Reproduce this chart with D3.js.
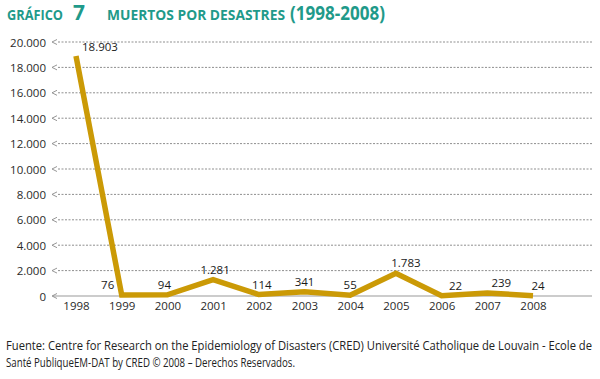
<!DOCTYPE html>
<html><head><meta charset="utf-8">
<script src="https://cdn.jsdelivr.net/npm/d3@7"></script>
<style>body{margin:0;background:#fff}svg{display:block}</style>
</head><body>
<svg id="c" width="600" height="379"></svg>
<script>
const years = ["1998","1999","2000","2001","2002","2003","2004","2005","2006","2007","2008"];
const deaths = [18903, 76, 94, 1281, 114, 341, 55, 1783, 22, 239, 24];
const valueLabels = ["18.903","76","94","1.281","114","341","55","1.783","22","239","24"];
const yTicks = [0,2000,4000,6000,8000,10000,12000,14000,16000,18000,20000];
const yTickLabels = ["0","2.000","4.000","6.000","8.000","10.000","12.000","14.000","16.000","18.000","20.000"];
// label nudges (layout only)
const labelDx = [6,-14,-3,2,3,0,0,10,14,14,5];

const svg = d3.select("#c");
const teal = "#1f9a8a";
const gold = "#cb9a06";
const x = d3.scalePoint().domain(years).range([76, 533]);
const y = d3.scaleLinear().domain([0,20000]).range([296, 42]);

// title
const tf = "'Open Sans', 'Noto Sans', sans-serif";
const tg = svg.append("g").attr("fill",teal).attr("font-family",tf).attr("font-weight","bold");
tg.append("text").attr("x",7).attr("y",20).attr("font-size",13.5).attr("textLength",56).attr("lengthAdjust","spacingAndGlyphs").text("GRÁFICO");
tg.append("text").attr("x",73).attr("y",20).attr("font-size",21).text("7");
tg.append("text").attr("x",107).attr("y",20).attr("font-size",13.5).attr("textLength",178).attr("lengthAdjust","spacingAndGlyphs").text("MUERTOS POR DESASTRES");
tg.append("text").attr("x",290).attr("y",20).attr("font-size",20).attr("textLength",95).attr("lengthAdjust","spacingAndGlyphs").text("(1998-2008)");

// gridlines
const grid = svg.append("g");
yTicks.forEach((v,i)=>{
  if(v===0) return;
  grid.append("line").attr("x1",58).attr("x2",592).attr("y1",y(v)).attr("y2",y(v))
    .attr("stroke","#8f8f8f").attr("stroke-width",1).attr("stroke-dasharray","2,1.5");
});
// zero axis
svg.append("line").attr("x1",53).attr("x2",592).attr("y1",y(0)).attr("y2",y(0))
  .attr("stroke","#9a9a9a").attr("stroke-width",1.2);
// arrow markers
yTicks.forEach(v=>{
  svg.append("path").attr("d",`M57,${y(v)-2.5}L52,${y(v)}L57,${y(v)+2.5}`)
    .attr("fill","none").attr("stroke","#8a8a8a").attr("stroke-width",0.9);
});

// y axis labels
const yAxis = d3.axisLeft(y).tickValues(yTicks).tickFormat((d,i)=>yTickLabels[i]).tickSize(0).tickPadding(0);
const ya = svg.append("g").attr("transform","translate(46,0)").call(yAxis);
ya.select(".domain").remove();
ya.selectAll("text").attr("font-family",tf).attr("font-size",11.5)
  .attr("fill","#2a2a2a").attr("dy","0.36em");

// x axis labels
const xAxis = d3.axisBottom(x).tickSize(0).tickPadding(0);
const xa = svg.append("g").attr("transform","translate(0,302)").call(xAxis);
xa.select(".domain").remove();
xa.selectAll("text").attr("font-family",tf).attr("font-size",11.5)
  .attr("fill","#2a2a2a").attr("dy","0.71em");

// line
const line = d3.line().x((d,i)=>x(years[i])).y(d=>y(d));
svg.append("path").datum(deaths).attr("d",line).attr("fill","none")
  .attr("stroke",gold).attr("stroke-width",5.5).attr("stroke-linejoin","miter");

// value labels
svg.append("g").selectAll("text").data(deaths).join("text")
  .attr("x",(d,i)=> x(years[i])+labelDx[i])
  .attr("y",(d,i)=> i===0 ? y(d)-5 : Math.min(y(d)-6, 293))
  .attr("text-anchor",(d,i)=> i===0 ? "start" : "middle")
  .attr("font-family",tf).attr("font-size",11.5)
  .attr("fill","#1a1a1a")
  .text((d,i)=>valueLabels[i]);

// footnote
const fn = svg.append("g").attr("font-family",tf).attr("font-size",12).attr("fill","#222");
fn.append("text").attr("x",6).attr("y",350).attr("textLength",586).attr("lengthAdjust","spacingAndGlyphs")
  .text("Fuente: Centre for Research on the Epidemiology of Disasters (CRED)  Université Catholique de Louvain - Ecole de");
fn.append("text").attr("x",6).attr("y",367).attr("textLength",289).attr("lengthAdjust","spacingAndGlyphs")
  .text("Santé PubliqueEM-DAT by CRED © 2008 – Derechos Reservados.");
</script>
</body></html>
